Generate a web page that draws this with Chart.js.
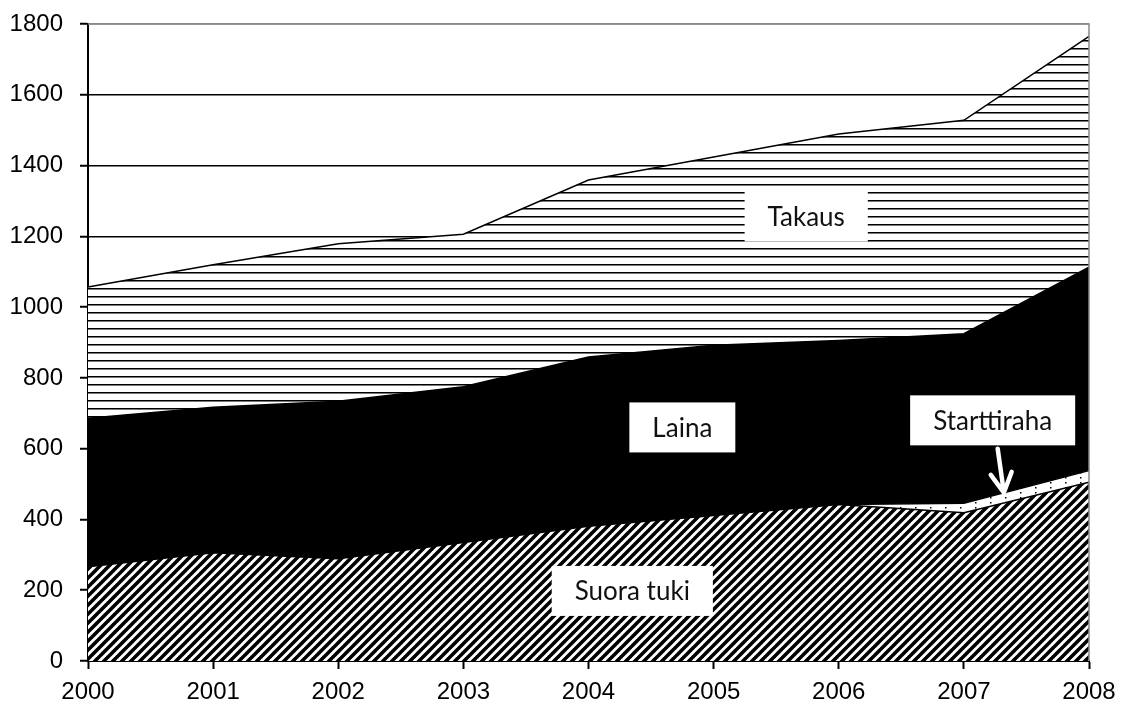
<!DOCTYPE html>
<html>
<head>
<meta charset="utf-8">
<script src="https://cdn.jsdelivr.net/npm/chart.js@4.4.1/dist/chart.umd.min.js"></script>
<style>
  html, body { margin: 0; padding: 0; background: #fff; }
</style>
</head>
<body>
<canvas id="myChart" width="1125" height="711"></canvas>
<script>
// data
const years = ["2000", "2001", "2002", "2003", "2004", "2005", "2006", "2007", "2008"];
const suoraTuki   = [266, 306, 289, 335, 381, 411, 442, 419, 505];
const starttiraha = [0, 0, 0, 0, 0, 0, 0, 27, 33];
const laina       = [420, 411, 445, 440, 478, 481, 464, 479, 575];
const takaus      = [371, 403, 445, 431, 500, 532, 583, 603, 652];
const yTicks = [0, 200, 400, 600, 800, 1000, 1200, 1400, 1600, 1800];

// text boxes inside the areas (x = category index, y = value)
const notes = [
  { text: "Takaus", x: 5.74, y: 1256 },
  { text: "Laina", x: 4.75, y: 660 },
  { text: "Starttiraha", x: 7.23, y: 680 },
  { text: "Suora tuki", x: 4.35, y: 198 },
];
const arrow = { from: [7.27, 600], to: [7.32, 476] };

// hatch patterns
const makeTile = (w, h, draw) => {
  const c = document.createElement("canvas");
  c.width = w; c.height = h;
  const g = c.getContext("2d");
  g.fillStyle = "#fff";
  g.fillRect(0, 0, w, h);
  draw(g, w, h);
  return document.getElementById("myChart").getContext("2d").createPattern(c, "repeat");
};

const diagPattern = makeTile(9, 9, (g, s) => {
  g.strokeStyle = "#000";
  g.lineWidth = 3.6;
  g.beginPath();
  g.moveTo(-1, 1); g.lineTo(1, -1);
  g.moveTo(0, s); g.lineTo(s, 0);
  g.moveTo(s - 1, s + 1); g.lineTo(s + 1, s - 1);
  g.stroke();
});

const horizPattern = makeTile(8, 8, (g) => {
  g.fillStyle = "#000";
  g.fillRect(0, 0, 8, 1);
  g.fillStyle = "#777";
  g.fillRect(0, 1, 8, 1);
});

const dotPattern = makeTile(15, 5, (g) => {
  g.fillStyle = "#000";
  g.fillRect(0, 2, 1.5, 1.5);
});

const areaSet = (label, values, bg, fill) => ({
  label: label,
  data: values,
  backgroundColor: bg,
  borderColor: "#000",
  borderWidth: 1.5,
  fill: fill,
  pointRadius: 0,
  tension: 0,
});

const boxPlugin = {
  id: "boxes",
  afterDatasetsDraw(chart) {
    const { ctx, chartArea, scales } = chart;
    const xs = scales.x, ys = scales.y;
    // gray plot border, top and right
    ctx.save();
    ctx.strokeStyle = "#888";
    ctx.lineWidth = 1.5;
    ctx.beginPath();
    ctx.moveTo(chartArea.left, chartArea.top);
    ctx.lineTo(chartArea.right, chartArea.top);
    ctx.lineTo(chartArea.right, chartArea.bottom);
    ctx.stroke();

    ctx.font = "26px Lato";
    ctx.textAlign = "center";
    ctx.textBaseline = "middle";
    notes.forEach(n => {
      const cx = xs.getPixelForValue(n.x);
      const cy = ys.getPixelForValue(n.y);
      const w = ctx.measureText(n.text).width + 46;
      const h = 50;
      ctx.fillStyle = "#fff";
      ctx.fillRect(cx - w / 2, cy - h / 2, w, h);
      ctx.fillStyle = "#111";
      ctx.fillText(n.text, cx, cy + 1);
    });

    // white arrow to the Starttiraha strip
    const x1 = xs.getPixelForValue(arrow.from[0]), y1 = ys.getPixelForValue(arrow.from[1]);
    const x2 = xs.getPixelForValue(arrow.to[0]), y2 = ys.getPixelForValue(arrow.to[1]);
    const ang = Math.atan2(y2 - y1, x2 - x1);
    ctx.strokeStyle = "#fff";
    ctx.lineWidth = 4.5;
    ctx.lineCap = "round";
    ctx.lineJoin = "round";
    ctx.beginPath();
    ctx.moveTo(x1, y1);
    ctx.lineTo(x2, y2);
    ctx.moveTo(x2 - 22 * Math.cos(ang - 0.5), y2 - 22 * Math.sin(ang - 0.5));
    ctx.lineTo(x2, y2);
    ctx.lineTo(x2 - 22 * Math.cos(ang + 0.5), y2 - 22 * Math.sin(ang + 0.5));
    ctx.stroke();
    ctx.restore();
  },
};

const config = {
  type: "line",
  data: {
    labels: years,
    datasets: [
      areaSet("Suora tuki", suoraTuki, diagPattern, "origin"),
      areaSet("Starttiraha", starttiraha, dotPattern, "-1"),
      areaSet("Laina", laina, "#000", "-1"),
      areaSet("Takaus", takaus, horizPattern, "-1"),
    ],
  },
  options: {
    responsive: false,
    animation: false,
    devicePixelRatio: 1,
    layout: { autoPadding: false, padding: { top: 24, right: 36, left: 0, bottom: 0 } },
    plugins: {
      legend: { display: false },
      tooltip: { enabled: false },
    },
    scales: {
      x: {
        offset: false,
        grid: {
          drawOnChartArea: false,
          drawTicks: true,
          tickLength: 8,
          tickColor: "#000",
          tickWidth: 2,
          offset: false,
        },
        border: { display: true, color: "#000", width: 2 },
        ticks: {
          color: "#000",
          font: { family: "Liberation Sans", size: 24 },
          padding: 9,
          maxRotation: 0,
          autoSkip: false,
        },
        afterFit: (scale) => { scale.height = 50; },
      },
      y: {
        stacked: true,
        min: 0,
        max: 1800,
        afterBuildTicks: (scale) => { scale.ticks = yTicks.map(v => ({ value: v })); },
        grid: {
          color: (c) => (c.tick && c.tick.value === 1800 ? "#888" : "#000"),
          lineWidth: 1.5,
          tickLength: 8,
          tickColor: "#000",
          tickWidth: 2,
        },
        border: { display: true, color: "#000", width: 2 },
        ticks: {
          color: "#000",
          font: { family: "Liberation Sans", size: 24 },
          padding: 17,
          callback: (v) => v,
        },
        afterFit: (scale) => {
          scale.width = 88;
          scale.paddingTop = 0;
          scale.paddingBottom = 0;
        },
      },
    },
  },
  plugins: [boxPlugin],
};

var myChart = new Chart(document.getElementById("myChart"), config);
</script>
</body>
</html>
